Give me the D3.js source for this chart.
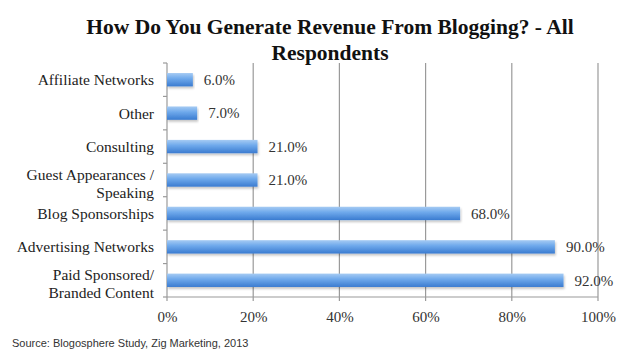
<!DOCTYPE html>
<html>
<head>
<meta charset="utf-8">
<script src="https://cdn.jsdelivr.net/npm/d3@7"></script>
<style>
  body { margin: 0; background: #fff; }
  svg { display: block; }
</style>
</head>
<body>
<div id="chart-area"></div>
<script>
// categories (top to bottom) and their shares
let categories = [
    ["Affiliate Networks"],
    ["Other"],
    ["Consulting"],
    ["Guest Appearances /", "Speaking"],
    ["Blog Sponsorships"],
    ["Advertising Networks"],
    ["Paid Sponsored/", "Branded Content"]
];
let values = [6, 7, 21, 21, 68, 90, 92];
let xTicks = [0, 20, 40, 60, 80, 100];
let titleLines = ["How Do You Generate Revenue From Blogging? - All", "Respondents"];
let source = "Source: Blogosphere Study, Zig Marketing, 2013";

// set margins, width, height
let margin = {top: 63, right: 32, bottom: 54, left: 167};
let width = 630 - margin.left - margin.right;
let height = 351 - margin.top - margin.bottom;

let root = d3.select("#chart-area").append("svg")
    .attr("width", 630)
    .attr("height", 351);

// bar gradient
let defs = root.append("defs");
let grad = defs.append("linearGradient")
    .attr("id", "barGrad")
    .attr("x1", 0).attr("y1", 0).attr("x2", 0).attr("y2", 1);
grad.append("stop").attr("offset", "0%").attr("stop-color", "#a6cbf3");
grad.append("stop").attr("offset", "40%").attr("stop-color", "#70aaec");
grad.append("stop").attr("offset", "100%").attr("stop-color", "#3a7bd0");

let shadow = defs.append("filter").attr("id", "barShadow")
    .attr("x", "-5%").attr("y", "-30%").attr("width", "110%").attr("height", "180%");
shadow.append("feDropShadow")
    .attr("dx", 1).attr("dy", 2).attr("stdDeviation", 1.2)
    .attr("flood-color", "#000").attr("flood-opacity", 0.22);

// title
root.append("g").selectAll("text")
    .data(titleLines)
    .enter().append("text")
    .attr("x", 330)
    .attr("y", (d, i) => 34 + i * 26)
    .attr("text-anchor", "middle")
    .style("font-family", "'Liberation Serif', 'DejaVu Serif', serif")
    .style("font-weight", "bold")
    .style("font-size", "21.5px")
    .style("fill", "#111")
    .text(d => d);

let svg = root.append("g")
    .attr("transform", "translate(" + margin.left + "," + margin.top + ")");

// scales
let x = d3.scaleLinear().domain([0, 100]).range([0, width]);
let y = d3.scaleBand()
    .domain(d3.range(categories.length))
    .range([0, height])
    .paddingInner(0.6)
    .paddingOuter(0.3);
let step = y.step();

// vertical gridlines
svg.selectAll(".grid")
    .data(xTicks.slice(1))
    .enter().append("line")
    .attr("class", "grid")
    .attr("x1", d => x(d)).attr("x2", d => x(d))
    .attr("y1", 0).attr("y2", height + 4)
    .style("stroke", "#9a9a9a")
    .style("stroke-width", 1.2);

// bottom axis
let xAxis = d3.axisBottom(x)
    .tickValues(xTicks)
    .tickFormat(d => d + "%")
    .tickSize(0)
    .tickPadding(14);
let gx = svg.append("g")
    .attr("transform", "translate(0," + height + ")")
    .call(xAxis);
gx.select(".domain").remove();
gx.selectAll("text")
    .style("font-family", "'Liberation Serif', 'DejaVu Serif', serif")
    .style("font-size", "15px")
    .style("fill", "#333");

svg.append("line")
    .attr("x1", 0).attr("x2", width)
    .attr("y1", height).attr("y2", height)
    .style("stroke", "#9a9a9a").style("stroke-width", 1.2);
svg.append("line")
    .attr("x1", 0).attr("x2", 0)
    .attr("y1", 0).attr("y2", height + 4)
    .style("stroke", "#9a9a9a").style("stroke-width", 1.2);

// left ticks between categories
svg.selectAll(".ytick")
    .data(d3.range(categories.length + 1))
    .enter().append("line")
    .attr("class", "ytick")
    .attr("x1", -4).attr("x2", 0)
    .attr("y1", d => d * step).attr("y2", d => d * step)
    .style("stroke", "#9a9a9a").style("stroke-width", 1.2);

// bars
svg.selectAll(".bar")
    .data(values)
    .enter().append("rect")
    .attr("class", "bar")
    .attr("x", 0)
    .attr("y", (d, i) => y(i))
    .attr("width", d => x(d))
    .attr("height", y.bandwidth())
    .style("fill", "url(#barGrad)")
    .attr("filter", "url(#barShadow)");

// value labels
svg.selectAll(".value")
    .data(values)
    .enter().append("text")
    .attr("class", "value")
    .attr("x", d => x(d) + 11)
    .attr("y", (d, i) => y(i) + y.bandwidth() / 2)
    .attr("dy", "0.35em")
    .style("font-family", "'Liberation Serif', 'DejaVu Serif', serif")
    .style("font-size", "15px")
    .style("fill", "#333")
    .text(d => d3.format(".1f")(d) + "%");

// category labels
let labels = svg.selectAll(".cat")
    .data(categories)
    .enter().append("text")
    .attr("class", "cat")
    .attr("x", -13)
    .attr("y", (d, i) => y(i) + y.bandwidth() / 2)
    .attr("text-anchor", "end")
    .style("font-family", "'Liberation Serif', 'DejaVu Serif', serif")
    .style("font-size", "15.5px")
    .style("fill", "#222");

labels.selectAll("tspan")
    .data(d => d.map((t, j) => ({t: t, j: j, n: d.length})))
    .enter().append("tspan")
    .attr("x", -13)
    .attr("dy", d => d.n === 1 ? "0.35em" : (d.j === 0 ? "0px" : "18px"))
    .text(d => d.t);

// source note
root.append("text")
    .attr("x", 12)
    .attr("y", 347)
    .style("font-family", "'Liberation Sans', Arial, sans-serif")
    .style("font-size", "11px")
    .style("fill", "#333")
    .text(source);
</script>
</body>
</html>
